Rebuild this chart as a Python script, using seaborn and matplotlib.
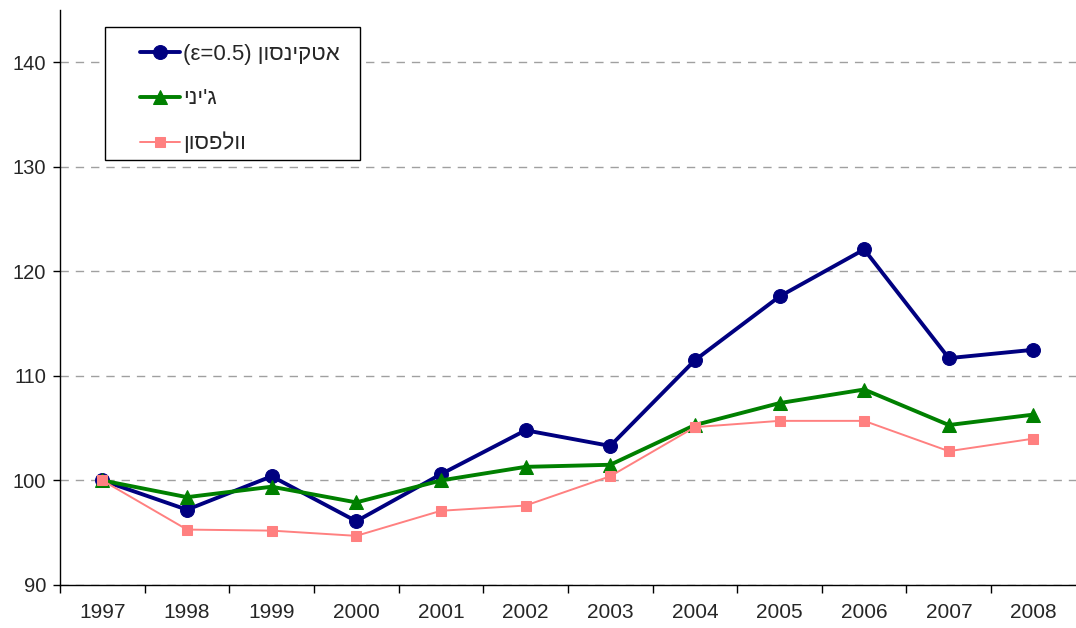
import matplotlib
matplotlib.use('Agg')
import matplotlib.pyplot as plt
import seaborn as sns
import pandas as pd
from matplotlib.ticker import MultipleLocator, FixedLocator
from matplotlib.patches import Rectangle

years = [1997, 1998, 1999, 2000, 2001, 2002, 2003, 2004, 2005, 2006, 2007, 2008]
atkinson = [100.0, 97.2, 100.4, 96.1, 100.6, 104.8, 103.3, 111.5, 117.6, 122.1, 111.7, 112.5]
gini = [100.0, 98.4, 99.4, 97.9, 100.0, 101.3, 101.5, 105.3, 107.4, 108.7, 105.3, 106.3]
wolfson = [100.0, 95.3, 95.2, 94.7, 97.1, 97.6, 100.4, 105.1, 105.7, 105.7, 102.8, 104.0]

# Hebrew labels written in visual (left-to-right) order
lbl_atk = "(ε=0.5) " + "אטקינסון"[::-1]
lbl_gini = "ג'יני"[::-1]
lbl_wolf = "וולפסון"[::-1]

sns.set_style('white')
plt.rcParams['font.family'] = ['Liberation Sans', 'DejaVu Sans']

df = pd.DataFrame({'year': years, 'atk': atkinson, 'gini': gini, 'wolf': wolfson})

fig = plt.figure(figsize=(10.76, 6.28), dpi=100)
ax = fig.add_axes([0.0558, 0.0685, 0.944, 0.9155])

sns.lineplot(data=df, x='year', y='atk', ax=ax, color='#000080', lw=2.8,
             marker='o', markersize=10, markeredgecolor='#000080', label=lbl_atk)
sns.lineplot(data=df, x='year', y='gini', ax=ax, color='#008000', lw=2.8,
             marker='^', markersize=10, markeredgecolor='#008000', label=lbl_gini)
sns.lineplot(data=df, x='year', y='wolf', ax=ax, color='#FF8080', lw=1.4,
             marker='s', markersize=7, markeredgecolor='#FF8080', label=lbl_wolf)

ax.set_xlim(1996.5, 2008.5)
ax.set_ylim(90, 145)
ax.set_xlabel('')
ax.set_ylabel('')
ax.xaxis.set_major_locator(FixedLocator(years))
ax.xaxis.set_minor_locator(FixedLocator([y + 0.5 for y in years[:-1]] + [1996.5]))
ax.set_xticklabels([str(y) for y in years])
ax.yaxis.set_major_locator(MultipleLocator(10))
ax.tick_params(axis='x', which='major', length=0, labelsize=15, pad=13)
ax.tick_params(axis='x', which='minor', length=6, width=1, color='black', direction='out', bottom=True)
ax.tick_params(axis='y', length=5, width=1, color='black', direction='out', left=True,
               labelsize=14.5, pad=5)

ax.grid(axis='y', color='#a0a0a0', linestyle=(0, (6, 5)), lw=1)
for s in ['top', 'right']:
    ax.spines[s].set_visible(False)
for s in ['left', 'bottom']:
    ax.spines[s].set_color('black')
    ax.spines[s].set_linewidth(1)

# legend box
ax.add_patch(Rectangle((0.0443, 0.739), 0.2510, 0.231, transform=ax.transAxes,
                       facecolor='white', edgecolor='black', lw=1, zorder=5))
leg = ax.legend(loc='upper left', bbox_to_anchor=(0.0787, 0.941), fontsize=16,
                frameon=False, handlelength=1.8, handletextpad=0.15,
                labelspacing=1.05, borderpad=0, borderaxespad=0)
leg.set_zorder(6)

fig.savefig('out.png', dpi=100)
